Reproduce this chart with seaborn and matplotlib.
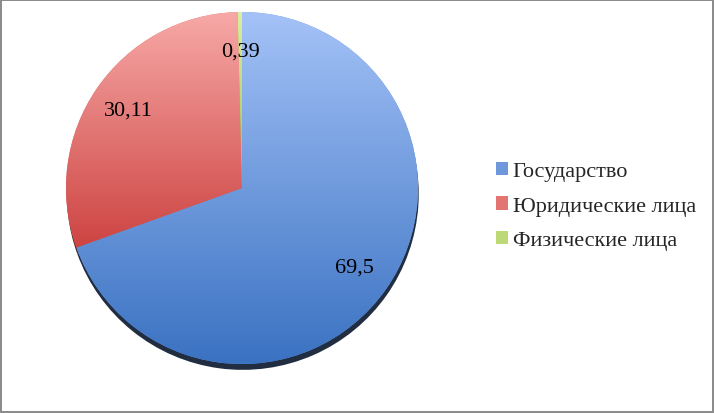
import numpy as np
import matplotlib
matplotlib.use("Agg")
import matplotlib.pyplot as plt
import seaborn as sns
from matplotlib.colors import LinearSegmentedColormap

categories = ["Государство", "Юридические лица", "Физические лица"]
values = [69.5, 30.11, 0.39]
value_labels = ["69,5", "30,11", "0,39"]

top_colors = ["#a4c2f7", "#f7a9a7", "#dcef9f"]
bottom_colors = ["#3a72c2", "#cd4442", "#9cc24c"]
mid_colors = ["#6e98dc", "#e27471", "#bcd877"]

sns.set_theme(style="white")
plt.rcParams['font.family'] = ['Liberation Serif', 'DejaVu Serif']

fig = plt.figure(figsize=(7.14, 4.14), dpi=100)
fig.patch.set_facecolor("white")
fig.patch.set_edgecolor("#8c8c8c")
fig.patch.set_linewidth(1.5)

cx, cy, r = 242, 189, 176
W, H = 714, 414
ax = fig.add_axes([(cx - r) / W, (H - cy - r) / H, 2 * r / W, 2 * r / H])

it = iter(value_labels)
wedges, texts, autotexts = ax.pie(
    values, colors=mid_colors, startangle=90, counterclock=False,
    radius=1, autopct=lambda p: next(it), pctdistance=0.78,
    shadow={'ox': 0.003, 'oy': -0.024, 'shade': 0.7, 'alpha': 1.0,
            'edgecolor': 'none'},
    wedgeprops=dict(edgecolor="none"),
    textprops=dict(fontsize=16, color="black"))

for w, tc, bc in zip(wedges, top_colors, bottom_colors):
    bb = w.get_path().transformed(w.get_patch_transform()).get_extents()
    cmap = LinearSegmentedColormap.from_list("g", [bc, tc])
    grad = np.linspace(0, 1, 256).reshape(-1, 1)
    im = ax.imshow(grad, cmap=cmap, origin="lower", aspect="auto",
                   extent=[bb.x0, bb.x1, bb.y0, bb.y1], zorder=w.get_zorder() + 0.1)
    im.set_clip_path(w)

for t in autotexts:
    t.set_zorder(10)

ax.set_xlim(-1.0, 1.0)
ax.set_ylim(-1.0, 1.0)
ax.set_aspect("equal")
ax.axis("off")

leg = fig.legend(wedges, categories, loc="center left",
                 bbox_to_anchor=(476 / W, (H - 207) / H), frameon=False,
                 fontsize=16, handlelength=0.55, handleheight=0.55,
                 handletextpad=0.2, labelspacing=0.68)

fig.savefig("out.png", dpi=100)
